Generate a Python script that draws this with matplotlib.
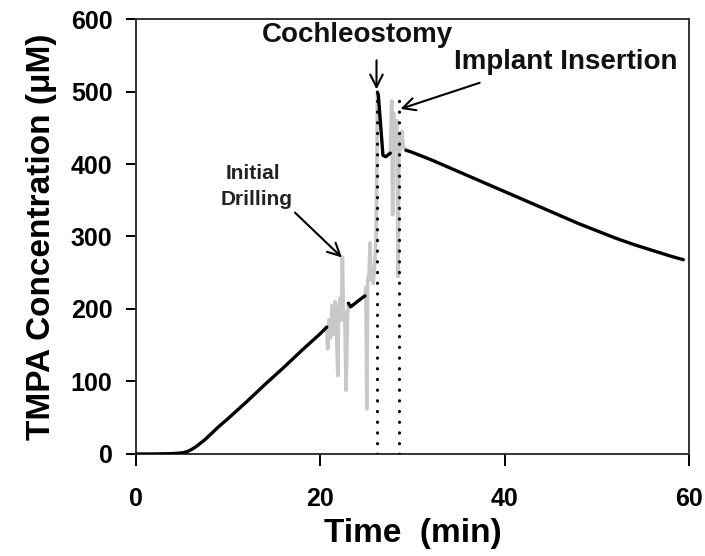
import matplotlib
matplotlib.use("Agg")
import matplotlib.pyplot as plt

# time (min) / TMPA concentration (uM)
rise_t = [0, 2, 4, 5, 5.5, 6, 6.5, 7, 7.5, 8, 8.5, 9, 10, 12, 14, 16, 18, 20, 20.7]
rise_v = [0, 0, 0.5, 1.5, 3, 6, 10, 15, 20, 26, 32, 38, 49, 72, 96, 119, 143, 166, 175]

drill1_t = [20.7, 20.8, 20.95, 21.1, 21.3, 21.45, 21.6, 21.75, 21.9, 22.0, 22.15,
            22.3, 22.4, 22.5, 22.65, 22.8, 22.95, 23.05]
drill1_v = [175, 145, 185, 160, 205, 165, 210, 175, 108, 200, 215,
            185, 271, 200, 195, 88, 190, 205]

mid_t = [23.05, 23.3, 23.5, 24.0, 24.5, 24.85]
mid_v = [208, 203, 205, 210, 215, 218]

drill2_t = [24.85, 24.95, 25.05, 25.15, 25.3, 25.4, 25.5, 25.6, 25.75, 25.9, 26.05, 26.15, 26.2]
drill2_v = [218, 230, 62, 240, 250, 291, 240, 255, 235, 260, 300, 420, 495]

coch_t = [26.2, 26.3, 26.8, 27.1, 27.6]
coch_v = [499, 495, 412, 410, 415]

insert_t = [27.6, 27.75, 27.85, 27.95, 28.05, 28.15, 28.3, 28.45, 28.55, 28.7, 28.85, 29.0, 29.3]
insert_v = [415, 487, 330, 470, 420, 445, 460, 245, 440, 420, 445, 425, 419]

decay_t = [29.3, 30, 32, 34, 36, 38, 40, 42, 44, 46, 48, 50, 52, 54, 56, 58, 59.4]
decay_v = [419, 416, 406, 395, 384, 373, 362, 351, 340, 329, 318, 308, 298, 289, 281, 273, 268]

event_t = [26.15, 28.5]   # cochleostomy, implant insertion
event_top = 500

plt.rcParams["font.family"] = ["Liberation Sans", "DejaVu Sans"]
plt.rcParams["font.weight"] = "bold"

fig = plt.figure(figsize=(7.05, 5.56), dpi=100)
ax = fig.add_axes([0.193, 0.1835, 0.784, 0.7823])

gray = "#c8c8c8"
for t, v in ((drill1_t, drill1_v), (drill2_t, drill2_v), (insert_t, insert_v)):
    ax.plot(t, v, color=gray, lw=2.6, zorder=2)
for t, v in ((rise_t, rise_v), (mid_t, mid_v), (coch_t, coch_v), (decay_t, decay_v)):
    ax.plot(t, v, color="black", lw=2.4, zorder=3, solid_capstyle="round")

for et in event_t:
    ax.plot([et, et], [0, event_top], color="black", lw=2.2,
            linestyle=(0, (0.1, 3.4)), dash_capstyle="round", zorder=4)

arrow = dict(arrowstyle="->,head_length=0.9,head_width=0.45", color="black", lw=1.5,
             shrinkA=0, shrinkB=0)
ax.text(12.64, 380, "Initial", ha="center", va="baseline", fontsize=15, color="#222222")
ax.text(13.1, 343, "Drilling", ha="center", va="baseline", fontsize=15, color="#222222")
ax.annotate("", xy=(22.35, 271), xytext=(17.25, 333), arrowprops=arrow)

ax.text(24.0, 568, "Cochleostomy", ha="center", va="baseline", fontsize=20, color="#111111")
ax.annotate("", xy=(26.1, 503), xytext=(26.1, 543), arrowprops=arrow)

ax.text(46.65, 531, "Implant Insertion", ha="center", va="baseline", fontsize=20,
        color="#111111")
ax.annotate("", xy=(28.7, 476), xytext=(37.3, 512), arrowprops=arrow)

ax.set_xlim(0, 60)
ax.set_ylim(0, 600)
ax.set_xticks([0, 20, 40, 60])
ax.set_yticks([0, 100, 200, 300, 400, 500, 600])
ax.tick_params(direction="out", width=1.4, labelsize=18)
ax.tick_params(axis="x", length=8.5, pad=15)
ax.tick_params(axis="y", length=7, pad=10)
for s in ax.spines.values():
    s.set_linewidth(1.4)
    s.set_color("#333333")
ax.set_xlabel("Time  (min)", fontsize=24, fontweight="bold", labelpad=5)
ax.set_ylabel("TMPA Concentration (\u03bcM)", fontsize=24, fontweight="bold", labelpad=10)

fig.savefig("out.png", dpi=100)
